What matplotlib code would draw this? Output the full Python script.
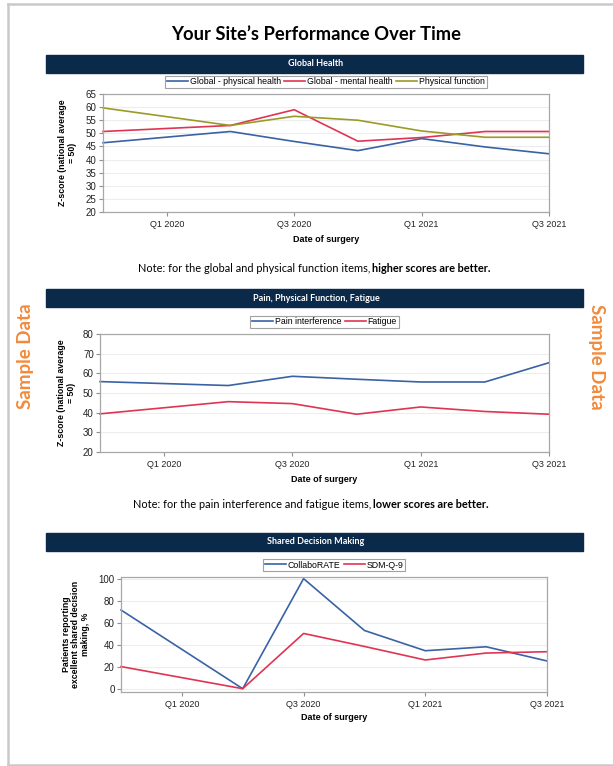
import matplotlib
matplotlib.use("Agg")
import matplotlib.pyplot as plt
from matplotlib.patches import Rectangle
from matplotlib.lines import Line2D

W, H = 613, 766

# quarter index: 0 = Q4 2019 ... 7 = Q3 2021
quarter_pos = [0, 2, 3, 4, 5, 6, 7]
tick_pos = [1, 3, 5, 7]
tick_labels = ["Q1 2020", "Q3 2020", "Q1 2021", "Q3 2021"]

global_physical = [46.4, 50.7, 46.9, 43.4, 48.0, 44.8, 42.2]
global_mental = [50.7, 53.0, 59.0, 47.0, 48.4, 50.7, 50.7]
physical_function = [59.7, 53.0, 56.5, 55.0, 50.9, 48.5, 48.5]

pain_interference = [55.8, 53.8, 58.5, 57.0, 55.6, 55.6, 65.4]
fatigue = [39.4, 45.6, 44.6, 39.2, 42.9, 40.6, 39.2]

collaborate = [71.5, 0, 100, 52.9, 34.5, 38.1, 25.2]
sdm_q9 = [20.1, 0, 50.2, 38.4, 26.1, 32.4, 33.6]

BLUE = "#3a62a4"
RED = "#df3553"
OLIVE = "#9c9a27"
NAVY = "#0b2949"
ORANGE = "#f28a3c"
SANS = ["Liberation Sans", "DejaVu Sans"]
HEAD = ["Lato", "DejaVu Sans"]

plt.rcParams["font.family"] = SANS

fig = plt.figure(figsize=(W / 100, H / 100), dpi=100)


def fx(px):
    return px / W


def fy(py):
    return 1 - py / H


def header(y0, y1, text):
    fig.patches.append(Rectangle((fx(46), fy(y1)), fx(583) - fx(46), fy(y0) - fy(y1),
                                 transform=fig.transFigure, color=NAVY, zorder=0))
    fig.text(fx(316), fy((y0 + y1) / 2), text, color="white", fontsize=6.5,
             fontweight="bold", family=HEAD, ha="center", va="center")


def panel(box, series, ylim, yticks, ylabel, xlab_y, label_x):
    x0, x1, y0, y1 = box
    ax = fig.add_axes([fx(x0), fy(y1), fx(x1) - fx(x0), fy(y0) - fy(y1)])
    for vals, color, name in series:
        ax.plot(quarter_pos, vals, color=color, lw=1.2, label=name, clip_on=False)
    ax.set_xlim(0, 7)
    ax.set_ylim(*ylim)
    ax.set_yticks(yticks)
    ax.set_xticks(tick_pos)
    ax.set_xticklabels(tick_labels)
    ax.tick_params(length=3, color="#909090", labelcolor="#222222")
    ax.tick_params(axis="y", labelsize=7, pad=1.5)
    ax.tick_params(axis="x", labelsize=6.5, pad=3)
    ax.grid(axis="y", color="#ededed", lw=0.8)
    ax.set_axisbelow(True)
    for s in ax.spines.values():
        s.set_color("#a8a8a8")
        s.set_linewidth(0.9)
    ax.set_ylabel(ylabel, fontsize=6.3, fontweight="bold", linespacing=1.1)
    ax.yaxis.set_label_coords((label_x - x0) / (x1 - x0), 0.5)
    fig.text(fx((x0 + x1) / 2), fy(xlab_y), "Date of surgery", fontsize=6.5,
             fontweight="bold", ha="center", va="center")
    leg = ax.legend(loc="lower center", bbox_to_anchor=(0.5, 1.05), ncol=len(series),
                    fontsize=6.3, frameon=True, fancybox=False, edgecolor="#8a8a8a",
                    handlelength=2.4, handletextpad=0.2, columnspacing=0.4,
                    borderpad=0.2, borderaxespad=0)
    leg.get_frame().set_linewidth(0.8)
    return ax


def note(y, plain, bold, split_x):
    fig.text(fx(split_x), fy(y), plain, fontsize=7.9, family=HEAD, ha="right", va="center")
    fig.text(fx(split_x + 2), fy(y), bold, fontsize=7.9, family=HEAD, fontweight="bold",
             ha="left", va="center")


# page outline
for xs, ys in [((8, 8), (4, 765)), ((8, 613), (4, 4)), ((8, 613), (765, 765))]:
    fig.add_artist(Line2D([fx(v) for v in xs], [fy(v) for v in ys], color="#c9c9c9",
                          lw=1.8, transform=fig.transFigure))

fig.text(fx(316), fy(35), "Your Site\u2019s Performance Over Time", fontsize=13.2,
         fontweight="bold", family=HEAD, ha="center", va="center")

header(55, 73, "Global Health")
panel((103, 549, 94, 212),
      [(global_physical, BLUE, "Global - physical health"),
       (global_mental, RED, "Global - mental health"),
       (physical_function, OLIVE, "Physical function")],
      (20, 65), range(20, 66, 5), "Z-score (national average\n= 50)", 239, 77)
note(268, "Note: for the global and physical function items,", "higher scores are better.", 370)

header(289, 307, "Pain, Physical Function, Fatigue")
panel((100, 549, 334, 452),
      [(pain_interference, BLUE, "Pain interference"),
       (fatigue, RED, "Fatigue")],
      (20, 80), range(20, 81, 10), "Z-score (national average\n= 50)", 480, 76)
note(505, "Note: for the pain interference and fatigue items,", "lower scores are better.", 371)

header(533, 551, "Shared Decision Making")
panel((121, 547, 577, 692),
      [(collaborate, BLUE, "CollaboRATE"),
       (sdm_q9, RED, "SDM-Q-9")],
      (-3, 101.5), range(0, 101, 20),
      "Patients reporting\nexcellent shared decision\nmaking, %", 718, 90)

fig.text(fx(25), fy(356), "Sample Data", color=ORANGE, fontsize=13.5, fontweight="bold",
         family=HEAD, rotation=90, ha="center", va="center")
fig.text(fx(597), fy(357), "Sample Data", color=ORANGE, fontsize=13.5, fontweight="bold",
         family=HEAD, rotation=-90, ha="center", va="center")

fig.savefig("out.png", dpi=100)
